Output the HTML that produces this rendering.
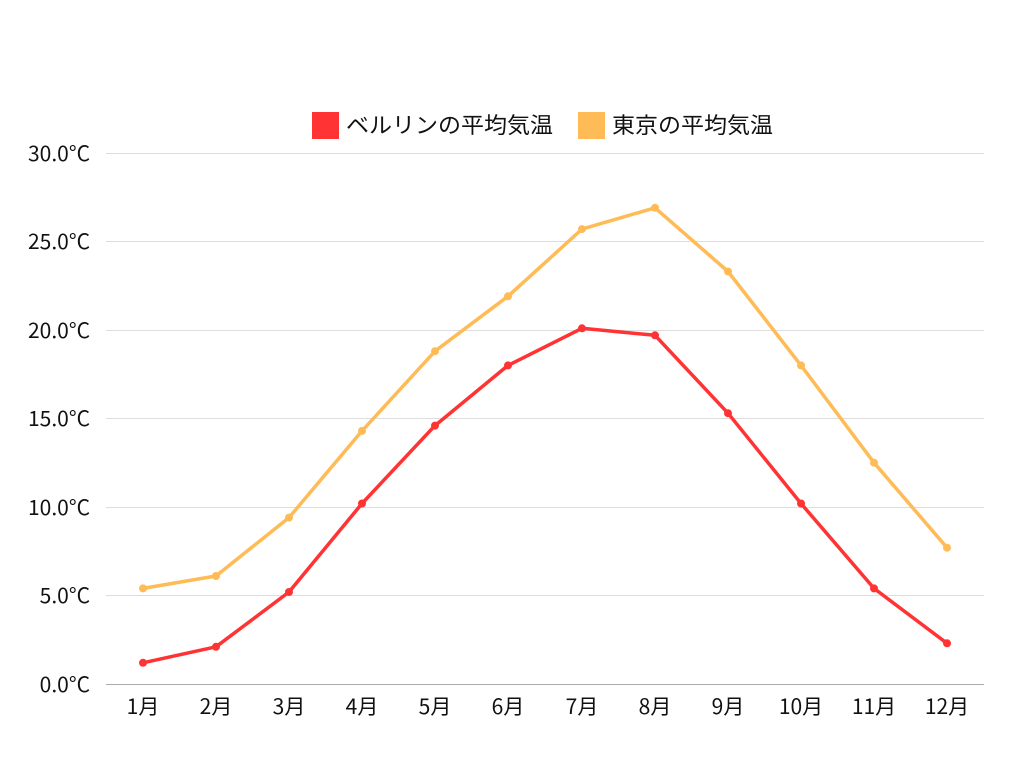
<!DOCTYPE html>
<html><head><meta charset="utf-8"><style>
body{margin:0;background:#fff;}
svg text{font-family:"Noto Sans CJK JP",sans-serif;fill:#111;}
</style></head><body>
<svg width="1024" height="768" viewBox="0 0 1024 768" xmlns="http://www.w3.org/2000/svg">
<g stroke="#dddddd" stroke-width="1">
<line x1="106" y1="153.5" x2="984" y2="153.5"/>
<line x1="106" y1="241.5" x2="984" y2="241.5"/>
<line x1="106" y1="330.5" x2="984" y2="330.5"/>
<line x1="106" y1="418.5" x2="984" y2="418.5"/>
<line x1="106" y1="507.5" x2="984" y2="507.5"/>
<line x1="106" y1="595.5" x2="984" y2="595.5"/>
</g>
<line x1="106" y1="684.5" x2="984" y2="684.5" stroke="#aaaaaa" stroke-width="1"/>
<g font-size="21" text-anchor="end">
<text x="90" y="692">0.0°C</text>
<text x="90" y="603">5.0°C</text>
<text x="90" y="515">10.0°C</text>
<text x="90" y="426">15.0°C</text>
<text x="90" y="338">20.0°C</text>
<text x="90" y="249">25.0°C</text>
<text x="90" y="161">30.0°C</text>
</g>
<g font-size="21" text-anchor="middle">
<text x="143" y="714">1月</text><text x="216" y="714">2月</text><text x="289" y="714">3月</text>
<text x="362" y="714">4月</text><text x="435" y="714">5月</text><text x="508" y="714">6月</text>
<text x="582" y="714">7月</text><text x="655" y="714">8月</text><text x="728" y="714">9月</text>
<text x="801" y="714">10月</text><text x="874" y="714">11月</text><text x="947" y="714">12月</text>
</g>
<polyline fill="none" stroke="#ffbb55" stroke-width="3.5" stroke-linejoin="round" points="143,588.4 216,576.0 289,517.6 362,430.9 435,351.2 508,296.3 582,229.1 655,207.8 728,271.5 801,365.4 874,462.7 947,547.7"/>
<g fill="#ffbb55">
<circle cx="143" cy="588.4" r="4"/><circle cx="216" cy="576.0" r="4"/><circle cx="289" cy="517.6" r="4"/><circle cx="362" cy="430.9" r="4"/><circle cx="435" cy="351.2" r="4"/><circle cx="508" cy="296.3" r="4"/><circle cx="582" cy="229.1" r="4"/><circle cx="655" cy="207.8" r="4"/><circle cx="728" cy="271.5" r="4"/><circle cx="801" cy="365.4" r="4"/><circle cx="874" cy="462.7" r="4"/><circle cx="947" cy="547.7" r="4"/>
</g>
<polyline fill="none" stroke="#ff3333" stroke-width="3.5" stroke-linejoin="round" points="143,662.8 216,646.8 289,592.0 362,503.5 435,425.6 508,365.4 582,328.3 655,335.3 728,413.2 801,503.5 874,588.4 947,643.3"/>
<g fill="#ff3333">
<circle cx="143" cy="662.8" r="4"/><circle cx="216" cy="646.8" r="4"/><circle cx="289" cy="592.0" r="4"/><circle cx="362" cy="503.5" r="4"/><circle cx="435" cy="425.6" r="4"/><circle cx="508" cy="365.4" r="4"/><circle cx="582" cy="328.3" r="4"/><circle cx="655" cy="335.3" r="4"/><circle cx="728" cy="413.2" r="4"/><circle cx="801" cy="503.5" r="4"/><circle cx="874" cy="588.4" r="4"/><circle cx="947" cy="643.3" r="4"/>
</g>
<rect x="312" y="112" width="27" height="27" fill="#ff3333"/>
<text x="346" y="133" font-size="22" textLength="207" lengthAdjust="spacingAndGlyphs">ベルリンの平均気温</text>
<rect x="578" y="112" width="27" height="27" fill="#ffbb55"/>
<text x="612" y="133" font-size="22" textLength="161" lengthAdjust="spacingAndGlyphs">東京の平均気温</text>
</svg>
</body></html>
